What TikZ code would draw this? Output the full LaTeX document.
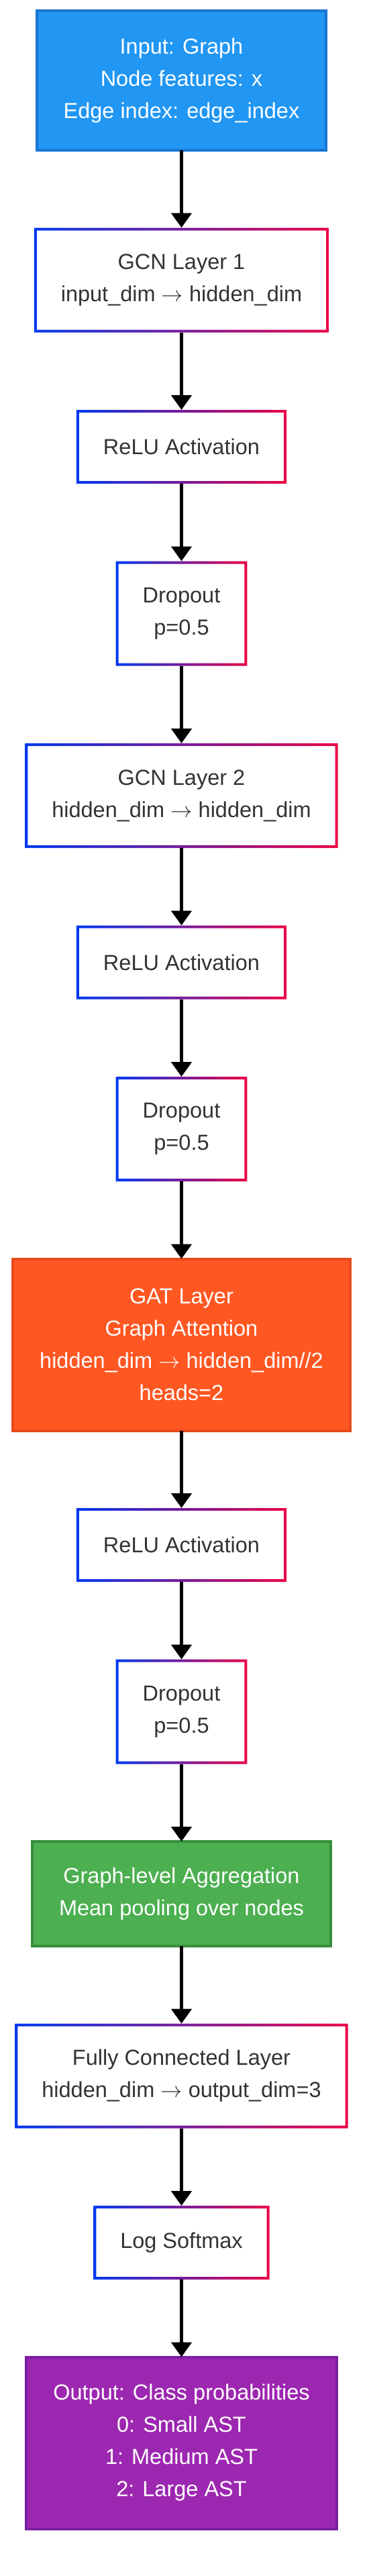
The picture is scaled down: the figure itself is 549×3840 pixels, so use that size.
\documentclass[tikz,border=0pt]{standalone}
\usepackage{fontspec}
\setmainfont{Liberation Sans}
\usepackage{tikz}
\usetikzlibrary{positioning, arrows.meta}
\definecolor{inblue}{HTML}{2196F3}
\definecolor{inblueline}{HTML}{1976D2}
\definecolor{gatorange}{HTML}{FF5722}
\definecolor{gatorangeline}{HTML}{E64A19}
\definecolor{poolgreen}{HTML}{4CAF50}
\definecolor{poolgreenline}{HTML}{388E3C}
\definecolor{outpurple}{HTML}{9C27B0}
\definecolor{outpurpleline}{HTML}{7B1FA2}
\definecolor{gradblue}{RGB}{0, 56, 240}
\definecolor{gradred}{RGB}{235, 0, 70}
\definecolor{textdark}{HTML}{333333}

\newcommand{\dimto}{\scalebox{1.3}{$\rightarrow$}}
\newcommand{\gradborder}[1]{%
	\shade[even odd rule, left color=gradblue, right color=gradred]
		(#1.south west) rectangle (#1.north east)
		([shift={(4pt,4pt)}]#1.south west) rectangle ([shift={(-4pt,-4pt)}]#1.north east);}

\begin{document}
\begin{tikzpicture}[x=1pt, y=1pt,
		layer/.style={rectangle, inner xsep=40pt, inner ysep=0pt, outer sep=0pt, align=center,
			font=\fontsize{32.5}{48}\selectfont, text=textdark, fill=white},
		colored/.style={layer, text=white, line width=4pt},
		lineone/.style={minimum height=110pt},
		linetwo/.style={minimum height=156pt},
		linethree/.style={minimum height=208pt},
		linefour/.style={minimum height=256pt},
		flowarrow/.style={line width=5pt, -{Triangle[width=30pt, length=22pt]}}]
		\useasboundingbox (0,0) rectangle (549,-3840);

		% layers, top to bottom
		\node[colored, linethree, fill=inblue, draw=inblueline, anchor=north] (input) at (270.5,-16)
			{Input: Graph\\Node features: x\\Edge index: edge\_index};
		\node[layer, linetwo, below=115.5pt of input] (gcnone)
			{GCN Layer 1\\input\_dim \dimto{} hidden\_dim};
		\node[layer, lineone, below=115.5pt of gcnone] (reluone) {ReLU Activation};
		\node[layer, linetwo, below=115.5pt of reluone] (dropone) {Dropout\\p=0.5};
		\node[layer, linetwo, below=115.5pt of dropone] (gcntwo)
			{GCN Layer 2\\hidden\_dim \dimto{} hidden\_dim};
		\node[layer, lineone, below=115.5pt of gcntwo] (relutwo) {ReLU Activation};
		\node[layer, linetwo, below=115.5pt of relutwo] (droptwo) {Dropout\\p=0.5};
		\node[colored, linefour, fill=gatorange, draw=gatorangeline, below=115.5pt of droptwo] (gat)
			{GAT Layer\\Graph Attention\\hidden\_dim \dimto{} hidden\_dim//2\\heads=2};
		\node[layer, lineone, below=115.5pt of gat] (reluthree) {ReLU Activation};
		\node[layer, linetwo, below=115.5pt of reluthree] (dropthree) {Dropout\\p=0.5};
		\node[colored, linetwo, fill=poolgreen, draw=poolgreenline, below=115.5pt of dropthree] (pool)
			{Graph-level Aggregation\\Mean pooling over nodes};
		\node[layer, linetwo, below=115.5pt of pool] (fc)
			{Fully Connected Layer\\hidden\_dim \dimto{} output\_dim=3};
		\node[layer, lineone, below=115.5pt of fc] (logsm) {Log Softmax};
		\node[colored, linefour, fill=outpurple, draw=outpurpleline, below=115.5pt of logsm] (output)
			{Output: Class probabilities\\0: Small AST\\1: Medium AST\\2: Large AST};

		% blue-to-red borders
		\gradborder{gcnone}
		\gradborder{reluone}
		\gradborder{dropone}
		\gradborder{gcntwo}
		\gradborder{relutwo}
		\gradborder{droptwo}
		\gradborder{reluthree}
		\gradborder{dropthree}
		\gradborder{fc}
		\gradborder{logsm}

		\draw[flowarrow] (input) -- (gcnone);
		\draw[flowarrow] (gcnone) -- (reluone);
		\draw[flowarrow] (reluone) -- (dropone);
		\draw[flowarrow] (dropone) -- (gcntwo);
		\draw[flowarrow] (gcntwo) -- (relutwo);
		\draw[flowarrow] (relutwo) -- (droptwo);
		\draw[flowarrow] (droptwo) -- (gat);
		\draw[flowarrow] (gat) -- (reluthree);
		\draw[flowarrow] (reluthree) -- (dropthree);
		\draw[flowarrow] (dropthree) -- (pool);
		\draw[flowarrow] (pool) -- (fc);
		\draw[flowarrow] (fc) -- (logsm);
		\draw[flowarrow] (logsm) -- (output);
	\end{tikzpicture}
\end{document}
